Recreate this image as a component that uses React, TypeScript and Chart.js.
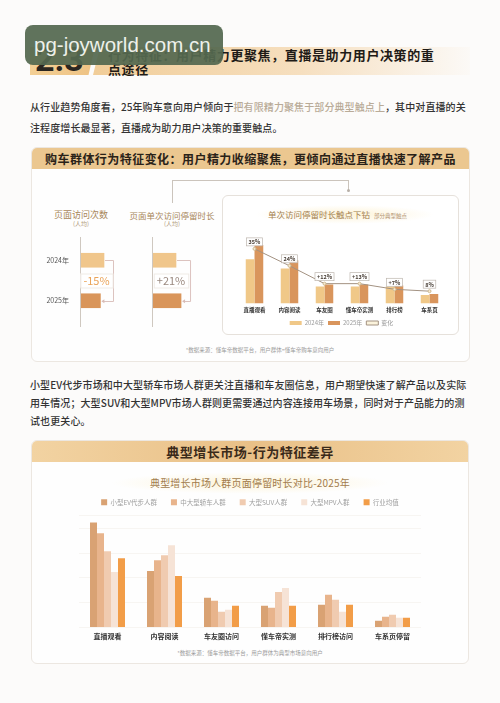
import React, { useEffect, useRef } from 'react';
import { Chart, registerables } from 'chart.js';
Chart.register(...registerables);

const FONT = '"Noto Sans CJK SC", "Noto Sans", sans-serif';

// ---- mini charts (人均) ----
const miniYears = ['2024年', '2025年'];
const visitCount = [100, 85];
const visitDuration = [100, 121];
const visitChange = '-15%';
const durationChange = '+21%';

// ---- drill-down chart ----
const touchpoints = ['直播观看', '内容阅读', '车友圈', '懂车帝实测', '排行榜', '车系页'];
const dwell2024 = [47, 37, 18, 18, 18, 9];
const dwell2025 = [62, 46, 20, 20, 19, 10];
const dwellChangeLine = [58, 40, 21, 21, 15, 13];
const dwellChangeLabels = ['35%', '24%', '+12%', '+13%', '+7%', '8%'];

// ---- market chart ----
const marketCategories = ['直播观看', '内容阅读', '车友圈访问', '懂车帝实测', '排行榜访问', '车系页停留'];
const marketSeriesNames = ['小型EV代步人群', '中大型轿车人群', '大型SUV人群', '大型MPV人群', '行业均值'];
const smallEV = [106, 57, 30, 22, 23, 7];
const midLargeSedan = [95, 68, 27, 20, 33, 11];
const largeSUV = [77, 73, 16, 36, 28, 13];
const largeMPV = [56, 83, 18, 40, 16, 10];
const industryAvg = [70, 52, 22, 22, 23, 10];
const marketColors = ['#d9a273', '#e8b48c', '#f0cbb0', '#f6e3d6', '#f29d48'];

function useChart(factory: () => any) {
  const ref = useRef<HTMLCanvasElement | null>(null);
  useEffect(() => {
    if (!ref.current) return;
    const chart = new Chart(ref.current, factory());
    return () => chart.destroy();
  }, []);
  return ref;
}

function bracketPlugin(label: string, color: string) {
  return {
    id: 'bracket',
    afterDatasetsDraw(chart: any) {
      const ctx = chart.ctx;
      const meta = chart.getDatasetMeta(0);
      const b0 = meta.data[0];
      const b1 = meta.data[1];
      const { left, top, bottom } = chart.chartArea;
      const xr = Math.max(b0.x, b1.x) + 9;
      ctx.save();
      ctx.strokeStyle = '#cfc8c0';
      ctx.lineWidth = 1;
      ctx.beginPath();
      ctx.moveTo(left + 0.5, top - 3);
      ctx.lineTo(left + 0.5, bottom + 6);
      ctx.stroke();
      ctx.strokeStyle = '#dcc3bf';
      ctx.beginPath();
      ctx.moveTo(b0.x + 1, Math.round(b0.y) + 0.5);
      ctx.lineTo(xr + 0.5, Math.round(b0.y) + 0.5);
      ctx.lineTo(xr + 0.5, Math.round(b1.y) + 0.5);
      ctx.lineTo(b1.x + 2, Math.round(b1.y) + 0.5);
      ctx.stroke();
      ctx.fillStyle = '#d8bcb6';
      ctx.beginPath();
      ctx.moveTo(b1.x + 1, b1.y + 0.5);
      ctx.lineTo(b1.x + 4, b1.y - 1.5);
      ctx.lineTo(b1.x + 4, b1.y + 2.5);
      ctx.closePath();
      ctx.fill();
      const my = (b0.y + b1.y) / 2;
      const cx = (left + xr) / 2;
      ctx.font = `11px ${FONT}`;
      const w = ctx.measureText(label).width;
      ctx.fillStyle = '#ffffff';
      ctx.fillRect(cx - w / 2 - 3, my - 7, w + 6, 14);
      ctx.strokeStyle = '#f0ebe6';
      ctx.strokeRect(cx - w / 2 - 3 + 0.5, my - 7 + 0.5, w + 6, 14);
      ctx.fillStyle = color;
      ctx.textAlign = 'center';
      ctx.textBaseline = 'middle';
      ctx.fillText(label, cx, my + 0.5);
      ctx.restore();
    },
  };
}

function miniConfig(values: number[], showLabels: boolean, label: string, color: string) {
  return {
    type: 'bar',
    data: {
      labels: miniYears,
      datasets: [
        {
          data: values,
          backgroundColor: ['#f0c68b', '#d9955a'],
          barThickness: 14,
        },
      ],
    },
    options: {
      indexAxis: 'y',
      animation: false,
      responsive: false,
      layout: { padding: { top: 10, bottom: 9, right: 2 } },
      plugins: { legend: { display: false }, tooltip: { enabled: false } },
      scales: {
        x: { display: false, min: 0, max: 200 },
        y: {
          grid: { display: false },
          border: { display: false },
          ticks: {
            display: showLabels,
            font: { size: 7, family: FONT },
            color: '#555',
            padding: 3,
          },
          afterFit: (s: any) => {
            s.width = showLabels ? 40 : 0;
          },
        },
      },
    },
    plugins: [bracketPlugin(label, color)],
  };
}

const drillLabelPlugin = {
  id: 'drillLabels',
  afterDatasetsDraw(chart: any) {
    const ctx = chart.ctx;
    const meta = chart.getDatasetMeta(2);
    ctx.save();
    ctx.font = `bold 5.5px ${FONT}`;
    ctx.textAlign = 'center';
    ctx.textBaseline = 'middle';
    meta.data.forEach((pt: any, i: number) => {
      const t = dwellChangeLabels[i];
      const w = ctx.measureText(t).width;
      const x = pt.x;
      const y = pt.y - 7;
      ctx.fillStyle = 'rgba(255,255,255,0.92)';
      ctx.fillRect(x - w / 2 - 2, y - 4, w + 4, 8);
      ctx.strokeStyle = '#bdb6ae';
      ctx.lineWidth = 0.7;
      ctx.strokeRect(x - w / 2 - 2, y - 4, w + 4, 8);
      ctx.fillStyle = '#4a4038';
      ctx.fillText(t, x, y + 0.3);
    });
    ctx.restore();
  },
};

function drillConfig() {
  return {
    type: 'bar',
    data: {
      labels: touchpoints,
      datasets: [
        { label: '2024年', data: dwell2024, backgroundColor: '#f0c888', order: 2 },
        { label: '2025年', data: dwell2025, backgroundColor: '#d9955c', order: 2 },
        {
          type: 'line',
          label: '变化',
          data: dwellChangeLine,
          borderColor: '#a39282',
          backgroundColor: '#fbf3dc',
          borderWidth: 1,
          pointRadius: 1.5,
          pointBackgroundColor: '#f6ead0',
          pointBorderColor: '#cdb890',
          order: 0,
        },
      ],
    },
    options: {
      animation: false,
      responsive: false,
      layout: { padding: { left: 3, right: 4, top: 0 } },
      datasets: { bar: { categoryPercentage: 0.5, barPercentage: 1 } },
      plugins: {
        tooltip: { enabled: false },
        legend: {
          position: 'bottom',
          labels: {
            boxWidth: 12,
            boxHeight: 4,
            padding: 4,
            font: { size: 6, family: FONT },
            color: '#9a9a9a',
            sort: (a: any, b: any) => a.datasetIndex - b.datasetIndex,
          },
        },
      },
      scales: {
        x: {
          grid: { display: false, drawTicks: false },
          border: { display: false },
          ticks: {
            font: { size: 5.5, weight: 'bold', family: FONT },
            color: '#333',
            padding: 3,
            maxRotation: 0,
            minRotation: 0,
            autoSkip: false,
          },
        },
        y: { display: false, min: 0, max: 77 },
      },
    },
    plugins: [drillLabelPlugin],
  };
}

function marketConfig() {
  const series = [smallEV, midLargeSedan, largeSUV, largeMPV, industryAvg];
  return {
    type: 'bar',
    data: {
      labels: marketCategories,
      datasets: series.map((d, i) => ({
        label: marketSeriesNames[i],
        data: d,
        backgroundColor: marketColors[i],
      })),
    },
    options: {
      animation: false,
      responsive: false,
      layout: { padding: { left: 7, right: 7 } },
      datasets: { bar: { categoryPercentage: 0.614, barPercentage: 1 } },
      plugins: {
        tooltip: { enabled: false },
        legend: {
          position: 'top',
          labels: {
            boxWidth: 6,
            boxHeight: 6,
            padding: 14,
            font: { size: 6.5, family: FONT },
            color: '#a0a0a0',
          },
        },
      },
      scales: {
        x: {
          grid: { display: false, drawTicks: false },
          border: { display: false },
          ticks: { font: { size: 7, weight: 'bold', family: FONT }, color: '#333', padding: 5, maxRotation: 0, autoSkip: false },
        },
        y: {
          min: 0,
          max: 113,
          grid: { color: '#f7f5f2', drawTicks: false },
          border: { display: false },
          ticks: { display: false, stepSize: 25 },
          afterFit: (s: any) => {
            s.width = 0;
          },
        },
      },
    },
  };
}

const abs = (l: number, t: number, w: number, h: number, extra: any = {}) => ({
  position: 'absolute' as const,
  left: l,
  top: t,
  width: w,
  height: h,
  ...extra,
});

export default function App() {
  const mini1 = useChart(() => miniConfig(visitCount, true, visitChange, '#eaa45a'));
  const mini2 = useChart(() => miniConfig(visitDuration, false, durationChange, '#9b8a80'));
  const drill = useChart(drillConfig);
  const market = useChart(marketConfig);

  const para: any = {
    position: 'absolute',
    left: 30,
    fontSize: 10,
    color: '#333',
    fontWeight: 500,
    whiteSpace: 'nowrap',
    letterSpacing: '0.1px',
  };
  const foot: any = { fontSize: 5.5, color: '#9a9a9a', textAlign: 'center', whiteSpace: 'nowrap' };

  return (
    <div style={abs(0, 0, 500, 703, { background: '#fcfbfa', overflow: 'hidden', fontFamily: FONT })}>
      {/* title bar */}
      <div
        style={abs(30, 47, 65, 28, {
          background: 'linear-gradient(90deg,#f3cf95,#eec283)',
          clipPath: 'polygon(0 0,100% 0,90% 100%,0 100%)',
        })}
      />
      <div
        style={abs(93, 47, 377, 28, {
          background: 'linear-gradient(90deg,#f1cd98 0%,#f6dfbf 55%,rgba(250,242,232,0.2) 100%)',
          clipPath: 'polygon(7px 0,100% 0,100% 100%,0 100%)',
        })}
      />
      <div style={abs(35, 40, 60, 38, { fontFamily: 'Roboto, sans-serif', fontWeight: 700, fontSize: 34, color: '#2b2620', lineHeight: '38px' })}>2.3</div>
      <div style={abs(108, 48, 370, 30, { fontSize: 13, fontWeight: 700, color: '#1f1b17', lineHeight: '14px', letterSpacing: '0.6px', whiteSpace: 'nowrap' })}>
        行为特征：用户精力更聚焦，直播是助力用户决策的重
        <br />
        点途径
      </div>
      {/* watermark */}
      <div
        style={abs(25, 25, 198, 40, {
          background: 'rgba(84,104,80,0.93)',
          borderRadius: 8,
          color: '#eef1ea',
          fontFamily: '"Liberation Sans", sans-serif',
          fontSize: 20.5,
          lineHeight: '40px',
          paddingLeft: 9,
          boxSizing: 'border-box',
          whiteSpace: 'nowrap',
        })}
      >
        pg-joyworld.com.cn
      </div>

      {/* paragraph 1 */}
      <div style={{ ...para, top: 96, lineHeight: '21px' }}>
        从行业趋势角度看，25年购车意向用户倾向于<span style={{ color: '#b9ab98' }}>把有限精力聚焦于部分典型触点上</span>，其中对直播的关
        <br />
        注程度增长最显著，直播成为助力用户决策的重要触点。
      </div>

      {/* panel 1 */}
      <div style={abs(31, 147, 439, 215, { background: '#fefefe', border: '1px solid #ece7e1', borderRadius: 6, overflow: 'hidden', boxSizing: 'border-box' })}>
        <div style={{ height: 21, background: '#ebc790', textAlign: 'center', fontSize: 12, fontWeight: 700, color: '#2a2218', lineHeight: '21px', letterSpacing: '0.45px', whiteSpace: 'nowrap' }}>
          购车群体行为特征变化：用户精力收缩聚焦，更倾向通过直播快速了解产品
        </div>
      </div>
      {/* connector */}
      <div style={abs(172, 180, 177, 0, { borderTop: '1px solid #cbc4bc' })} />
      <div style={abs(172, 180, 0, 23, { borderLeft: '1px solid #cbc4bc' })} />
      <div style={abs(348, 180, 0, 10, { borderLeft: '1px solid #cbc4bc' })} />
      <div style={abs(346.5, 188.5, 3, 3, { background: '#b8b0a8', borderRadius: 2 })} />

      <div style={abs(31, 209, 100, 12, { textAlign: 'center', fontSize: 9, color: '#a8865a', lineHeight: '12px' })}>页面访问次数</div>
      <div style={abs(31, 220, 100, 8, { textAlign: 'center', fontSize: 6, color: '#b09878', lineHeight: '8px' })}>(人均)</div>
      <div style={abs(122, 209, 100, 12, { textAlign: 'center', fontSize: 8.5, color: '#a8865a', lineHeight: '12px', whiteSpace: 'nowrap' })}>页面单次访问停留时长</div>
      <div style={abs(122, 220, 100, 8, { textAlign: 'center', fontSize: 6, color: '#b09878', lineHeight: '8px' })}>(人均)</div>

      <canvas ref={mini1} width={90} height={100} style={abs(40, 230, 90, 100)} />
      <canvas ref={mini2} width={50} height={100} style={abs(152, 230, 50, 100)} />

      {/* inner drill panel */}
      <div style={abs(222, 195, 237, 140, { background: '#fff', border: '1px solid #e6e1db', borderRadius: 6, boxSizing: 'border-box' })} />
      <div style={abs(255, 205, 180, 19, { background: 'radial-gradient(ellipse at center, rgba(252,240,205,0.8) 0%, rgba(255,255,255,0) 70%)' })} />
      <div style={abs(268, 208, 190, 12, { fontSize: 8.5, color: '#a3804e', lineHeight: '12px', whiteSpace: 'nowrap' })}>
        单次访问停留时长触点下钻
        <span style={{ fontSize: 5.5, color: '#b39472', marginLeft: 4 }}>部分典型触点</span>
      </div>
      <canvas ref={drill} width={220} height={110} style={abs(232, 226, 220, 110)} />

      <div style={{ ...foot, ...abs(110, 346, 300, 8) }}>*数据来源：懂车帝数据平台，用户群体=懂车帝购车意向用户</div>

      {/* paragraph 2 */}
      <div style={{ ...para, top: 376, lineHeight: '18px' }}>
        小型EV代步市场和中大型轿车市场人群更关注直播和车友圈信息，用户期望快速了解产品以及实际
        <br />
        用车情况；大型SUV和大型MPV市场人群则更需要通过内容连接用车场景，同时对于产品能力的测
        <br />
        试也更关心。
      </div>

      {/* panel 2 */}
      <div style={abs(31, 440, 438, 224, { background: '#fefefe', border: '1px solid #ece7e1', borderRadius: 6, overflow: 'hidden', boxSizing: 'border-box' })}>
        <div style={{ height: 21, background: 'linear-gradient(90deg,#f2d3a2,#e9c087 50%,#f2d3a2)', textAlign: 'center', fontSize: 13, fontWeight: 700, color: '#3a2a1a', lineHeight: '21px', letterSpacing: '0.5px' }}>
          典型增长市场-行为特征差异
        </div>
      </div>
      <div style={abs(110, 472, 280, 22, { background: 'radial-gradient(ellipse at center, rgba(252,242,210,0.85) 0%, rgba(255,255,255,0) 70%)' })} />
      <div style={abs(100, 476, 300, 14, { textAlign: 'center', fontSize: 10, color: '#a27c4c', lineHeight: '14px', letterSpacing: '0.2px' })}>
        典型增长市场人群页面停留时长对比-2025年
      </div>
      <canvas ref={market} width={356} height={161} style={abs(72, 485, 356, 161)} />
      <div style={{ ...foot, ...abs(100, 649, 300, 8) }}>*数据来源：懂车帝数据平台，用户群体为典型市场意向用户</div>
    </div>
  );
}
